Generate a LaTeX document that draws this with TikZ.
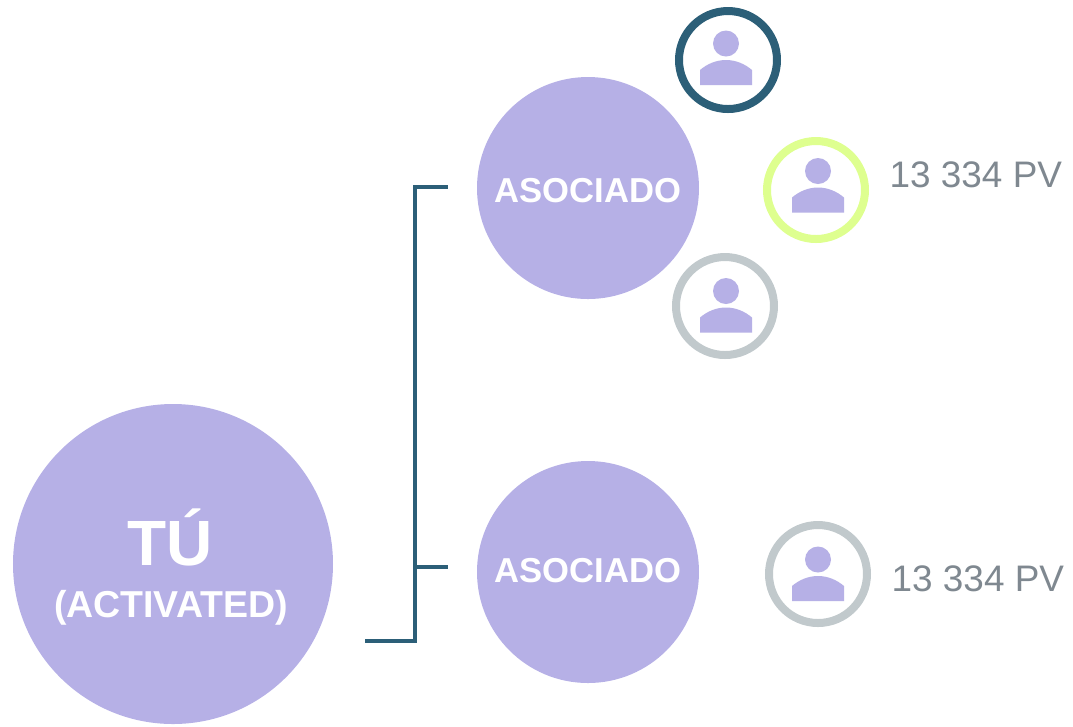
\documentclass[tikz,border=0pt]{standalone}
\usepackage{fontspec}
\setmainfont{Liberation Sans}
\usepackage{tikz}
\usetikzlibrary{positioning}
\definecolor{lila}{HTML}{B6B0E6}
\definecolor{teal}{HTML}{2C5F78}
\definecolor{lima}{HTML}{DEFF8F}
\definecolor{gris}{HTML}{C1C9CC}
\definecolor{texto}{HTML}{7F8890}
\tikzset{
  socio/.style={circle,fill=lila,inner sep=0pt,minimum size=2.22cm},
  sociotexto/.style={text=white,inner sep=0pt,font=\fontsize{9.85}{12}\selectfont\bfseries},
  anillo/.style={circle,draw=#1,line width=0.08cm,fill=white,inner sep=0pt,minimum size=0.98cm},
  cabeza/.style={circle,fill=lila,inner sep=0pt,minimum size=0.26cm},
  puntos/.style={font=\fontsize{10.5}{12}\selectfont,text=texto,inner sep=0pt},
  rama/.style={draw=teal,line width=0.04cm}
}
\newcommand{\cuerpo}[1]{
  \fill[lila,shift={(#1.center)}] (-0.26,-0.415) -- (-0.26,-0.265)
    .. controls (-0.19,-0.205) and (-0.10,-0.165) .. (0,-0.165)
    .. controls (0.10,-0.165) and (0.19,-0.205) .. (0.26,-0.265)
    -- (0.26,-0.415) -- cycle;
}
\begin{document}
\begin{tikzpicture}
  \useasboundingbox (0,0) rectangle (10.73,-7.26);
  \node[circle,fill=lila,inner sep=0pt,minimum size=3.2cm] (tu) at (1.73,-5.64) {};
  \node[text=white,font=\fontsize{18.2}{20}\selectfont\bfseries] (tulabel) at (1.70,-5.37) {TÚ};
  \node[text=white,font=\fontsize{10.67}{12}\selectfont\bfseries] (activated) at (1.71,-6.08) {(ACTIVATED)};
  \node[socio] (asociadoa) at (5.88,-1.88) {};
  \node[sociotexto] (textoa) at (5.88,-1.91) {ASOCIADO};
  \node[socio] (asociadob) at (5.88,-5.72) {};
  \node[sociotexto] (textob) at (5.88,-5.71) {ASOCIADO};
  % anillos
  \node[anillo=teal] (anilloa) at (7.28,-0.60) {};
  \node[anillo=lima] (anillob) at (8.16,-1.90) {};
  \node[anillo=gris] (anilloc) at (7.25,-3.06) {};
  \node[anillo=gris] (anillod) at (8.18,-5.74) {};
  % personas
  \foreach \n/\x/\y in {a/7.26/-0.435,b/8.18/-1.71,c/7.26/-2.91,d/8.18/-5.595}{
    \node[cabeza] (cabeza\n) at (\x,\y) {};
    \cuerpo{cabeza\n}
  }
  \node[puntos,anchor=west] (pva) at (8.89,-1.75) {13 334 PV};
  \node[puntos,anchor=west] (pvb) at (8.91,-5.79) {13 334 PV};
  % ramas
  \coordinate (inicio) at (3.65,-6.41);
  \coordinate (codo) at (4.15,-6.41);
  \coordinate (alto) at (4.15,-1.87);
  \coordinate (finala) at (4.48,-1.87);
  \coordinate (medio) at (4.15,-5.67);
  \coordinate (finalb) at (4.48,-5.67);
  \draw[rama] (inicio) -- (codo) -- (alto) -- (finala);
  \draw[rama] (medio) -- (finalb);
\end{tikzpicture}
\end{document}
